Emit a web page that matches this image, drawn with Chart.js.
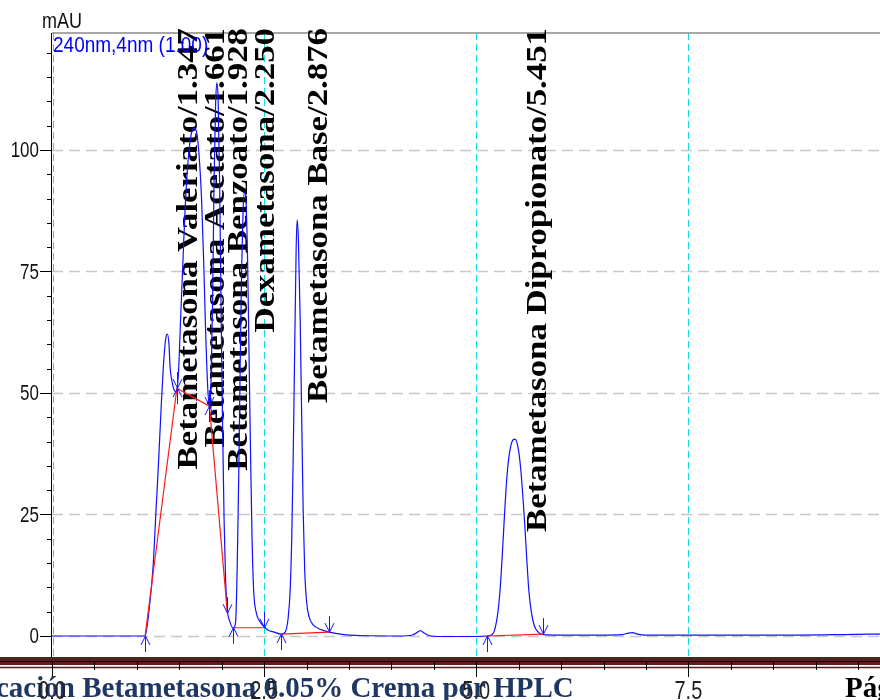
<!DOCTYPE html>
<html>
<head>
<meta charset="utf-8">
<script src="https://cdn.jsdelivr.net/npm/chart.js@4"></script>
<style>
  html, body { margin: 0; padding: 0; background: #fff; }
  #wrap { width: 880px; height: 700px; }
</style>
</head>
<body>
<div id="wrap"><canvas id="chrom" width="880" height="700"></canvas></div>
<script>
// trace: retention time (min) / absorbance (mAU)
const times = [
  0, 0.566, 1.038, 1.097, 1.144, 1.191, 1.226, 1.253, 1.285, 1.312, 1.338, 1.359, 1.379, 1.392, 1.415, 1.439, 1.468,
  1.492, 1.515, 1.539, 1.568, 1.604, 1.639, 1.675, 1.704, 1.733, 1.763, 1.787, 1.810, 1.834, 1.855,
  1.875, 1.893, 1.910, 1.928, 1.942, 1.958, 1.975, 1.993, 2.011, 2.028, 2.046, 2.067, 2.093, 2.138,
  2.164, 2.182, 2.200, 2.217, 2.235, 2.252, 2.270, 2.288, 2.305, 2.323, 2.341, 2.358, 2.376, 2.406, 2.453, 2.500, 2.547, 2.618, 2.700,
  2.748, 2.783, 2.807, 2.825, 2.842, 2.860, 2.877, 2.889, 2.904, 2.925, 2.943, 2.960, 2.978, 3.002, 3.031, 3.078, 3.160, 3.267, 3.396, 3.632, 4.104,
  4.245, 4.292, 4.340, 4.387, 4.446, 4.575, 4.929, 5.126,
  5.177, 5.212, 5.242, 5.265, 5.289, 5.313, 5.336, 5.360, 5.383, 5.407, 5.430, 5.454, 5.478, 5.501, 5.525, 5.548, 5.572, 5.596, 5.619, 5.649, 5.684, 5.731, 5.790,
  5.991, 6.462, 6.722, 6.792, 6.840, 6.899, 6.993, 7.642, 8.821, 9.351, 9.758
];
const mAU = [
  0, 0, 0, 0, 5.3, 14.2, 25.9, 34.8, 46.5, 55.3, 60.9, 62.1, 59.9, 55.3, 52.3, 50.6, 50.2,
  54.7, 65.0, 75.3, 87.7, 97.9, 103.1, 104.5, 103.7, 99.0, 89.7, 77.4, 63.0, 51.6, 47.3,
  52.7, 69.1, 93.8, 109.3, 113.8, 110.3, 93.8, 67.1, 42.4, 23.9, 11.5, 5.3, 3.1, 1.6,
  2.9, 13.6, 32.1, 54.7, 75.3, 87.7, 91.4, 88.7, 77.4, 56.8, 36.2, 19.8, 9.5, 4.9, 2.9, 1.9, 1.2, 0.8, 0.4,
  0.8, 3.7, 9.5, 19.8, 36.2, 58.8, 79.4, 85.6, 81.5, 65.0, 44.4, 25.9, 13.6, 6.8, 3.9, 2.3, 1.4, 0.8, 0.4, 0.1, 0,
  0.2, 0.6, 1.1, 0.6, 0.1, -0.1, -0.1, 0,
  0.2, 1.0, 3.3, 6.4, 11.5, 18.7, 25.9, 32.5, 36.6, 39.1, 40.3, 40.5, 39.9, 37.9, 34.2, 29.0, 22.8, 15.6, 9.5, 4.9, 2.1, 0.8, 0.3,
  0.2, 0.2, 0.3, 0.6, 0.7, 0.4, 0.2, 0.2, 0.2, 0.3, 0.4
];

// peak labels
const peakNames = [
  'Betametasona Valeriato', 'Betametasona Acetato', 'Betametasona Benzoato',
  'Dexametasona', 'Betametasona Base', 'Betametasona Dipropionato'
];
const peakTimes = [1.347, 1.661, 1.928, 2.250, 2.876, 5.451];

// integration baselines (null = break)
const baseTimes = [1.097, 1.472, 1.855, 2.067, 2.1, 2.138, 2.500, 2.6, 2.700, 3.267, 4.0, 5.126, 5.784];
const baseValues = [0, 51.0, 47.3, 4.7, null, 1.7, 1.7, null, 0.4, 0.8, null, 0, 0.4];

// peak start (up arrow) / end (down arrow) marks
const upTimes = [1.097, 1.472, 1.855, 2.138, 2.700, 5.126];
const upValues = [0, 51.0, 47.3, 1.7, 0.4, 0];
const downTimes = [1.472, 1.855, 2.067, 2.500, 3.267, 5.784];
const downValues = [51.0, 47.3, 4.7, 1.7, 0.8, 0.4];

// axes
const xMajor = [0, 2.5, 5.0, 7.5];
const xTickLabels = ['0.0', '2.5', '5.0', '7.5'];
const xMinor = [0.5, 1, 1.5, 2, 3, 3.5, 4, 4.5, 5.5, 6, 6.5, 7, 8, 8.5, 9, 9.5];
const yMajor = [0, 25, 50, 75, 100];
const yMinor = [5, 10, 15, 20, 30, 35, 40, 45, 55, 60, 65, 70, 80, 85, 90, 95, 105, 110, 115, 120];

const traceData = times.map((t, i) => ({ x: t, y: mAU[i] }));
const baseData = baseTimes.map((t, i) => ({ x: t, y: baseValues[i] }));

function stretchText(ctx, txt, x, y, sy, align, base) {
  ctx.save();
  ctx.translate(x, y);
  ctx.scale(1, sy);
  ctx.textAlign = align;
  ctx.textBaseline = base;
  ctx.fillText(txt, 0, 0);
  ctx.restore();
}

const decor = {
  id: 'decor',
  beforeDatasetsDraw(chart) {
    const ctx = chart.ctx, a = chart.chartArea;
    const xs = chart.scales.x, ys = chart.scales.y;
    ctx.save();
    // gray dashed horizontal grid
    ctx.strokeStyle = '#c8c8c8';
    ctx.lineWidth = 1.5;
    ctx.setLineDash([11, 6]);
    yMajor.forEach(v => {
      const y = Math.round(ys.getPixelForValue(v)) + 0.5;
      ctx.beginPath(); ctx.moveTo(a.left, y); ctx.lineTo(a.right, y); ctx.stroke();
    });
    // cyan dashed verticals
    ctx.strokeStyle = '#12dcec';
    ctx.lineWidth = 1;
    ctx.setLineDash([7, 4]);
    xMajor.forEach(v => {
      const x = Math.round(xs.getPixelForValue(v)) + 0.5 + (v === 0 ? 1 : 0);
      ctx.beginPath(); ctx.moveTo(x, a.top); ctx.lineTo(x, a.bottom - 4); ctx.stroke();
    });
    ctx.setLineDash([]);
    // top border
    ctx.strokeStyle = '#8a8a8a';
    ctx.lineWidth = 1.5;
    ctx.beginPath(); ctx.moveTo(a.left, a.top); ctx.lineTo(a.right, a.top); ctx.stroke();

    // peak labels, rotated
    ctx.fillStyle = '#000';
    ctx.font = 'bold 30px "Liberation Serif", serif';
    peakNames.forEach((name, i) => {
      const x = xs.getPixelForValue(peakTimes[i]) + 31;
      ctx.save();
      ctx.translate(x, 28);
      ctx.scale(1, 1.16);
      ctx.rotate(-Math.PI / 2);
      ctx.textAlign = 'right';
      ctx.textBaseline = 'alphabetic';
      ctx.fillText(name + '/' + peakTimes[i].toFixed(3), 0, 0);
      ctx.restore();
    });
    ctx.restore();
  },
  afterDatasetsDraw(chart) {
    const ctx = chart.ctx;
    const xs = chart.scales.x, ys = chart.scales.y;
    ctx.save();
    ctx.strokeStyle = '#1515ff';
    ctx.lineWidth = 1;
    upTimes.forEach((t, i) => {
      const x = Math.round(xs.getPixelForValue(t)) + 0.5, y = ys.getPixelForValue(upValues[i]);
      ctx.beginPath();
      ctx.moveTo(x, y); ctx.lineTo(x, y + 16);
      ctx.moveTo(x - 4.5, y + 9); ctx.lineTo(x, y); ctx.lineTo(x + 4.5, y + 9);
      ctx.stroke();
    });
    downTimes.forEach((t, i) => {
      const x = Math.round(xs.getPixelForValue(t)) + 0.5, y = ys.getPixelForValue(downValues[i]);
      ctx.beginPath();
      ctx.moveTo(x, y); ctx.lineTo(x, y - 16);
      ctx.moveTo(x - 4.5, y - 9); ctx.lineTo(x, y); ctx.lineTo(x + 4.5, y - 9);
      ctx.stroke();
    });
    ctx.restore();
  },
  afterDraw(chart) {
    const ctx = chart.ctx, a = chart.chartArea;
    const xs = chart.scales.x, ys = chart.scales.y;
    ctx.save();
    // y axis
    ctx.strokeStyle = '#000';
    ctx.lineWidth = 1;
    ctx.beginPath(); ctx.moveTo(a.left - 0.5, a.top); ctx.lineTo(a.left - 0.5, a.bottom); ctx.stroke();
    yMajor.forEach(v => {
      const y = Math.round(ys.getPixelForValue(v)) + 0.5;
      ctx.beginPath(); ctx.moveTo(a.left - 12, y); ctx.lineTo(a.left, y); ctx.stroke();
    });
    yMinor.forEach(v => {
      const y = Math.round(ys.getPixelForValue(v)) + 0.5;
      ctx.beginPath(); ctx.moveTo(a.left - 5, y); ctx.lineTo(a.left, y); ctx.stroke();
    });
    ctx.fillStyle = '#111';
    ctx.font = '17px "Liberation Sans", Arial, sans-serif';
    yMajor.forEach(v => {
      stretchText(ctx, String(v), a.left - 13, ys.getPixelForValue(v) + 1, 1.35, 'right', 'middle');
    });
    ctx.font = '18px "Liberation Sans", Arial, sans-serif';
    stretchText(ctx, 'mAU', 42, 28, 1.2, 'left', 'alphabetic');
    ctx.fillStyle = '#0000ff';
    ctx.font = '19px "Liberation Sans", Arial, sans-serif';
    stretchText(ctx, '240nm,4nm (1.00)', 53, 52, 1.2, 'left', 'alphabetic');

    // page footer band and x axis
    ctx.fillStyle = '#5a1f1f';
    ctx.fillRect(0, 657, 880, 8);
    ctx.strokeStyle = '#000';
    ctx.beginPath(); ctx.moveTo(0, 661.5); ctx.lineTo(880, 661.5); ctx.stroke();
    ctx.strokeStyle = '#5a1f1f';
    ctx.lineWidth = 1.5;
    ctx.beginPath(); ctx.moveTo(0, 667.5); ctx.lineTo(880, 667.5); ctx.stroke();
    ctx.strokeStyle = '#000';
    ctx.lineWidth = 1;
    xMajor.forEach(v => {
      const x = Math.round(xs.getPixelForValue(v)) + 0.5;
      ctx.beginPath(); ctx.moveTo(x, 662); ctx.lineTo(x, 677); ctx.stroke();
    });
    xMinor.forEach(v => {
      const x = Math.round(xs.getPixelForValue(v)) + 0.5;
      ctx.beginPath(); ctx.moveTo(x, 662); ctx.lineTo(x, 670); ctx.stroke();
    });

    // footer text
    ctx.fillStyle = '#1f3763';
    ctx.font = 'bold 29px "Liberation Serif", serif';
    ctx.textAlign = 'left';
    ctx.textBaseline = 'alphabetic';
    ctx.fillText('cación Betametasona 0.05% Crema por HPLC', -4, 697);
    ctx.fillStyle = '#000';
    ctx.fillText('Pág', 845, 697);

    ctx.fillStyle = '#222';
    ctx.font = '20px "Liberation Sans", Arial, sans-serif';
    xMajor.forEach((v, i) => {
      stretchText(ctx, xTickLabels[i], xs.getPixelForValue(v), 699, 1.33, 'center', 'alphabetic');
    });
    ctx.restore();
  }
};

new Chart(document.getElementById('chrom'), {
  type: 'line',
  data: {
    datasets: [
      {
        label: 'baseline',
        data: baseData,
        borderColor: '#ff1a1a',
        borderWidth: 1.2,
        pointRadius: 0,
        spanGaps: false,
        order: 1
      },
      {
        label: '240nm,4nm (1.00)',
        data: traceData,
        borderColor: '#1010ff',
        borderWidth: 1.2,
        pointRadius: 0,
        cubicInterpolationMode: 'monotone',
        order: 2
      }
    ]
  },
  options: {
    responsive: false,
    animation: false,
    devicePixelRatio: 1,
    layout: { padding: { left: 52, top: 33, right: 0, bottom: 38 } },
    plugins: { legend: { display: false }, tooltip: { enabled: false } },
    scales: {
      x: { type: 'linear', min: 0, max: 9.758, display: false },
      y: { type: 'linear', min: -5.35, max: 124.07, display: false }
    }
  },
  plugins: [decor]
});
</script>
</body>
</html>
